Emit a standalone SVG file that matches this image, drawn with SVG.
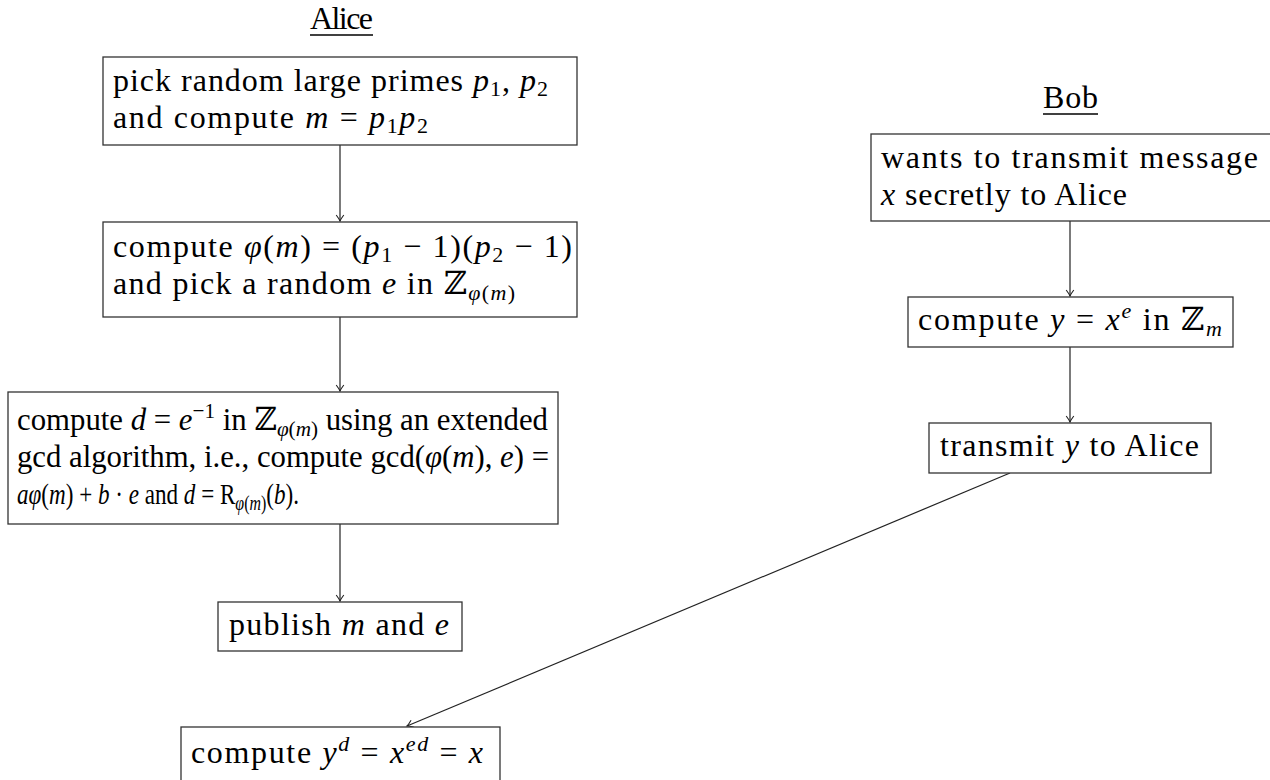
<svg xmlns="http://www.w3.org/2000/svg" width="1270" height="780" viewBox="0 0 1270 780">
<defs>
<style>
text{font-family:"Liberation Serif","DejaVu Serif",serif;font-size:32px;fill:#000}
.i{font-style:italic}
.s{font-size:22px}
.box{fill:#fff;stroke:#333;stroke-width:1.3}
.edge{fill:none;stroke:#222;stroke-width:1.2}
.ul{stroke:#000;stroke-width:1.3}
</style>
<marker id="arr" markerWidth="12" markerHeight="12" refX="0" refY="0" viewBox="-8 -6 10 12" orient="auto" markerUnits="userSpaceOnUse">
<path d="M-6,-3.8 Q-2,-0.8 0,0 Q-2,0.8 -6,3.8" fill="none" stroke="#222" stroke-width="1.1"/>
</marker>
</defs>
<rect width="1270" height="780" fill="#fff"/>

<g id="title-alice">
<text x="310" y="29" textLength="63">Alice</text>
<line class="ul" x1="310" y1="35" x2="373" y2="35"/>
</g>
<g id="title-bob">
<text x="1043" y="108" textLength="55">Bob</text>
<line class="ul" x1="1043" y1="114" x2="1098" y2="114"/>
</g>

<g id="connectors">
<line class="edge" x1="340" y1="145" x2="340" y2="221" marker-end="url(#arr)"/>
<line class="edge" x1="340" y1="317" x2="340" y2="391" marker-end="url(#arr)"/>
<line class="edge" x1="340" y1="524" x2="340" y2="601" marker-end="url(#arr)"/>
<line class="edge" x1="1070" y1="221" x2="1070" y2="296" marker-end="url(#arr)"/>
<line class="edge" x1="1070" y1="347" x2="1070" y2="422" marker-end="url(#arr)"/>
<line class="edge" x1="1010" y1="473" x2="407" y2="726" marker-end="url(#arr)"/>
</g>

<g id="n1">
<rect class="box" x="103" y="57" width="474" height="88"/>
<text x="113" y="91" textLength="435">pick random large primes <tspan class="i">p</tspan><tspan class="s" dy="5">1</tspan><tspan dy="-5">, </tspan><tspan class="i">p</tspan><tspan class="s" dy="5">2</tspan></text>
<text x="113" y="128" textLength="315">and compute <tspan class="i">m</tspan> = <tspan class="i">p</tspan><tspan class="s" dy="5">1</tspan><tspan class="i" dy="-5">p</tspan><tspan class="s" dy="5">2</tspan></text>
</g>

<g id="n2">
<rect class="box" x="103" y="222" width="474" height="95"/>
<text x="113" y="257" textLength="459">compute <tspan class="i">φ</tspan>(<tspan class="i">m</tspan>) = (<tspan class="i">p</tspan><tspan class="s" dy="5">1</tspan><tspan dy="-5"> − 1)(</tspan><tspan class="i">p</tspan><tspan class="s" dy="5">2</tspan><tspan dy="-5"> − 1)</tspan></text>
<text x="113" y="294" textLength="402">and pick a random <tspan class="i">e</tspan> in ℤ<tspan class="s" dy="6"><tspan class="i">φ</tspan>(<tspan class="i">m</tspan>)</tspan></text>
</g>

<g id="n3">
<rect class="box" x="8" y="392" width="550" height="132"/>
<text x="17" y="430" textLength="531" lengthAdjust="spacingAndGlyphs">compute <tspan class="i">d</tspan> = <tspan class="i">e</tspan><tspan class="s" dy="-12">−1</tspan><tspan dy="12"> in ℤ</tspan><tspan class="s" dy="6"><tspan class="i">φ</tspan>(<tspan class="i">m</tspan>)</tspan><tspan dy="-6"> using an extended</tspan></text>
<text x="17" y="467" textLength="532" lengthAdjust="spacingAndGlyphs">gcd algorithm, i.e., compute gcd(<tspan class="i">φ</tspan>(<tspan class="i">m</tspan>), <tspan class="i">e</tspan>) =</text>
<text x="17" y="504" textLength="282" lengthAdjust="spacingAndGlyphs" style="font-size:29px"><tspan class="i">aφ</tspan>(<tspan class="i">m</tspan>) + <tspan class="i">b</tspan> · <tspan class="i">e</tspan> and <tspan class="i">d</tspan> = R<tspan style="font-size:20px" dy="6"><tspan class="i">φ</tspan>(<tspan class="i">m</tspan>)</tspan><tspan dy="-6">(</tspan><tspan class="i">b</tspan>).</text>
</g>

<g id="n4">
<rect class="box" x="218" y="602" width="244" height="49"/>
<text x="229" y="635" textLength="220">publish <tspan class="i">m</tspan> and <tspan class="i">e</tspan></text>
</g>

<g id="n5">
<rect class="box" x="181" y="727" width="319" height="70"/>
<text x="191" y="763" textLength="292">compute <tspan class="i">y</tspan><tspan class="s i" dy="-12">d</tspan><tspan dy="12"> = </tspan><tspan class="i">x</tspan><tspan class="s i" dy="-12">ed</tspan><tspan dy="12"> = </tspan><tspan class="i">x</tspan></text>
</g>

<g id="n6">
<rect class="box" x="871" y="134" width="400" height="87"/>
<text x="881" y="168" textLength="377">wants to transmit message</text>
<text x="881" y="205" textLength="246"><tspan class="i">x</tspan> secretly to Alice</text>
</g>

<g id="n7">
<rect class="box" x="908" y="297" width="325" height="50"/>
<text x="918" y="330" textLength="304">compute <tspan class="i">y</tspan> = <tspan class="i">x</tspan><tspan class="s i" dy="-12">e</tspan><tspan dy="12"> in ℤ</tspan><tspan class="s i" dy="6">m</tspan></text>
</g>

<g id="n8">
<rect class="box" x="929" y="423" width="282" height="50"/>
<text x="940" y="456" textLength="259">transmit <tspan class="i">y</tspan> to Alice</text>
</g>
</svg>
